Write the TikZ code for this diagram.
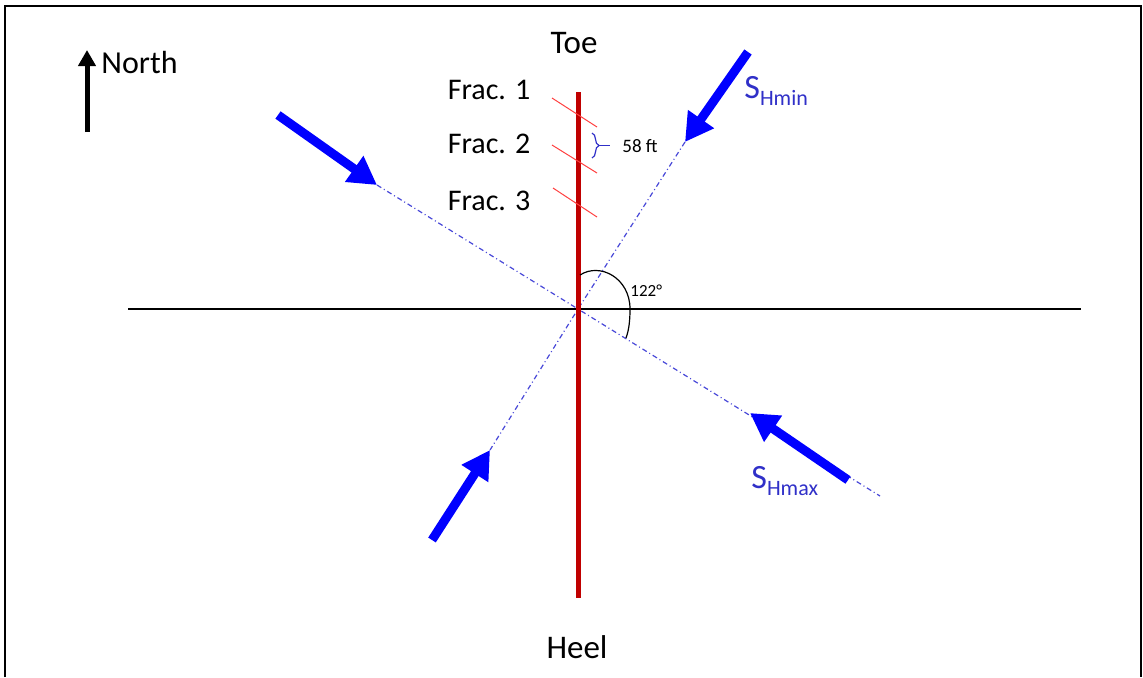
\documentclass[tikz,border=0pt]{standalone}
\usepackage{fontspec}
\setmainfont{Carlito}
\usetikzlibrary{arrows.meta,decorations.pathreplacing}
\definecolor{wellred}{HTML}{C00000}
\definecolor{fracred}{HTML}{FF4040}
\definecolor{stressblue}{HTML}{0000FF}
\definecolor{labelblue}{HTML}{3030C8}
\definecolor{dashblue}{HTML}{4848D8}
\tikzset{
  stress/.style={stressblue, line width=4.5pt, -{Triangle[length=14pt,width=15pt]}},
  trend/.style={dashblue, line width=0.6pt, dash pattern=on 2.5pt off 1.5pt on 0.5pt off 1.5pt},
  frac/.style={fracred, line width=0.5pt},
  lbl/.style={inner sep=0pt, anchor=base},
}
\begin{document}
\begin{tikzpicture}[x=0.5pt, y=-0.5pt]
    \useasboundingbox (0,0) rectangle (1143,677);
    % frame
    \draw[line width=1pt] (5,677) -- (5,6) -- (1141,6) -- (1141,677);

    % reference points
    \coordinate (c) at (578,309);
    \coordinate (ew1) at (128,309);
    \coordinate (ew2) at (1081,309);
    \coordinate (toeend) at (578,92);
    \coordinate (heelend) at (578,598);
    \coordinate (maxa) at (377,185);
    \coordinate (maxb) at (880,496);
    \coordinate (mina) at (685,142);
    \coordinate (minb) at (490,450);

    \draw[line width=0.6pt] (ew1) -- (ew2);
    \draw[trend] (maxa) -- (c) -- (maxb);
    \draw[trend] (mina) -- (c) -- (minb);
    \draw[wellred, line width=2.5pt] (toeend) -- (heelend);

    % fractures
    \draw[frac] (552,98) -- (597,127);
    \draw[frac] (552,145) -- (597,173);
    \draw[frac] (553,188) -- (597,217);
    \node[lbl] (f1) at (489,99) {\fontsize{15}{18}\selectfont Frac. 1};
    \node[lbl] (f2) at (489,153) {\fontsize{15}{18}\selectfont Frac. 2};
    \node[lbl] (f3) at (489,210) {\fontsize{15}{18}\selectfont Frac. 3};

    % spacing
    \draw[labelblue, line width=0.6pt, decorate, decoration={brace, amplitude=3.5pt}] (592,133) -- (592,158);
    \coordinate (bt) at (599,145.5);
    \coordinate (be) at (610,145.5);
    \draw[labelblue, line width=0.6pt] (bt) -- (be);
    \node[lbl, anchor=base west] (sp) at (622,152) {\fontsize{9.5}{11}\selectfont 58 ft};

    % angle
    \draw[line width=0.6pt] (580,275) .. controls (600,262) and (630,278) .. (630,309)
        .. controls (630,320) and (629,330) .. (626,338);
    \node[lbl, anchor=base west] (ang) at (630,296) {\fontsize{8.5}{10}\selectfont 122°};

    % stresses
    \draw[stress] (278,115) -- (maxa);
    \draw[stress] (848,480) -- (750,413);
    \draw[stress] (748,52) -- (mina);
    \draw[stress] (432,540) -- (minb);
    \node[lbl, anchor=base west, labelblue] (shmin) at (744,98)
        {\fontsize{17}{20}\selectfont S\raisebox{-3.5pt}{\fontsize{11}{13}\selectfont Hmin}};
    \node[lbl, anchor=base west, labelblue] (shmax) at (751,488)
        {\fontsize{17}{20}\selectfont S\raisebox{-3.5pt}{\fontsize{11}{13}\selectfont Hmax}};

    % ends
    \node[lbl] (toe) at (574,53) {\fontsize{16.5}{20}\selectfont Toe};
    \node[lbl] (heel) at (577,658) {\fontsize{16.5}{20}\selectfont Heel};

    % north
    \coordinate (ntail) at (87,132);
    \coordinate (ntip) at (87,50);
    \draw[line width=2.5pt, -{Triangle[length=8pt,width=8.5pt]}] (ntail) -- (ntip);
    \node[lbl, anchor=base west] (north) at (101,73) {\fontsize{16}{19}\selectfont North};
\end{tikzpicture}
\end{document}
